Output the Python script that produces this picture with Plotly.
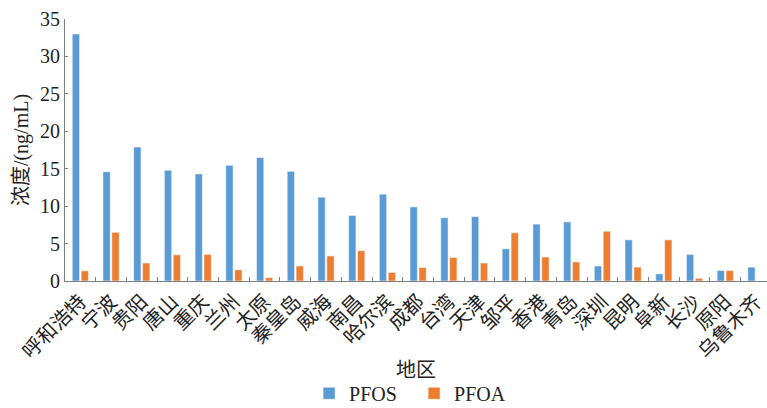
import plotly.graph_objects as go

regions = ["呼和浩特", "宁波", "贵阳", "唐山", "重庆", "兰州", "太原", "秦皇岛", "威海", "南昌",
           "哈尔滨", "成都", "台湾", "天津", "邹平", "香港", "青岛", "深圳", "昆明", "阜新",
           "长沙", "原阳", "乌鲁木齐"]
pfos = [33.0, 14.6, 17.9, 14.8, 14.3, 15.45, 16.5, 14.65, 11.2, 8.75,
        11.6, 9.9, 8.45, 8.6, 4.3, 7.6, 7.9, 2.0, 5.5, 0.95,
        3.55, 1.4, 1.85]
pfoa = [1.35, 6.5, 2.4, 3.5, 3.55, 1.5, 0.45, 2.0, 3.35, 4.05,
        1.15, 1.8, 3.15, 2.4, 6.45, 3.2, 2.55, 6.65, 1.85, 5.5,
        0.35, 1.4, 0.0]

FONT = "'Liberation Serif', 'Noto Sans CJK SC', serif"
BLUE = "#5B9BD5"
ORANGE = "#ED7D31"

fig = go.Figure()
fig.add_trace(go.Bar(x=regions, y=pfos, name="PFOS",
                     marker=dict(color=BLUE, line=dict(color="rgba(255,255,255,0.5)", width=1))))
fig.add_trace(go.Bar(x=regions, y=pfoa, name="PFOA",
                     marker=dict(color=ORANGE, line=dict(color="rgba(255,255,255,0.5)", width=1))))

fig.update_layout(
    width=767, height=408,
    margin=dict(l=65, r=0, t=19, b=127),
    paper_bgcolor="white", plot_bgcolor="white",
    font=dict(family=FONT, size=20, color="#222222"),
    barmode="group", bargap=0.42, bargroupgap=0.18,
    legend=dict(orientation="h", xref="container", x=0.403, xanchor="left",
                yref="container", y=0.036, yanchor="middle",
                font=dict(size=20), itemwidth=30, traceorder="normal", entrywidth=60,
                tracegroupgap=0),
    showlegend=True,
    annotations=[dict(text="地区", xref="paper", yref="paper", x=0.5, y=-0.34,
                      xanchor="center", yanchor="middle", showarrow=False,
                      font=dict(size=20, color="#222222"))],
)
fig.update_xaxes(
    range=[-0.5, 22.36], tickangle=-45, tickson="boundaries", ticks="inside", ticklen=4,
    tickcolor="#7f7f7f", showline=True, linecolor="#7f7f7f", linewidth=1, showgrid=False,
    tickfont=dict(size=20, color="#222222"), automargin=False,
)
fig.update_yaxes(
    range=[0, 35], dtick=5, ticks="inside", ticklen=3, tickcolor="#7f7f7f",
    showline=True, linecolor="#7f7f7f", linewidth=1, showgrid=False, zeroline=False,
    tickfont=dict(size=20, color="#222222"), automargin=False, ticklabelstandoff=0,
    title=dict(text="浓度/(ng/mL)", font=dict(size=20), standoff=6),
)

fig.write_html("out.html", config={"displayModeBar": False},
               post_script="document.body.style.margin='0';")
